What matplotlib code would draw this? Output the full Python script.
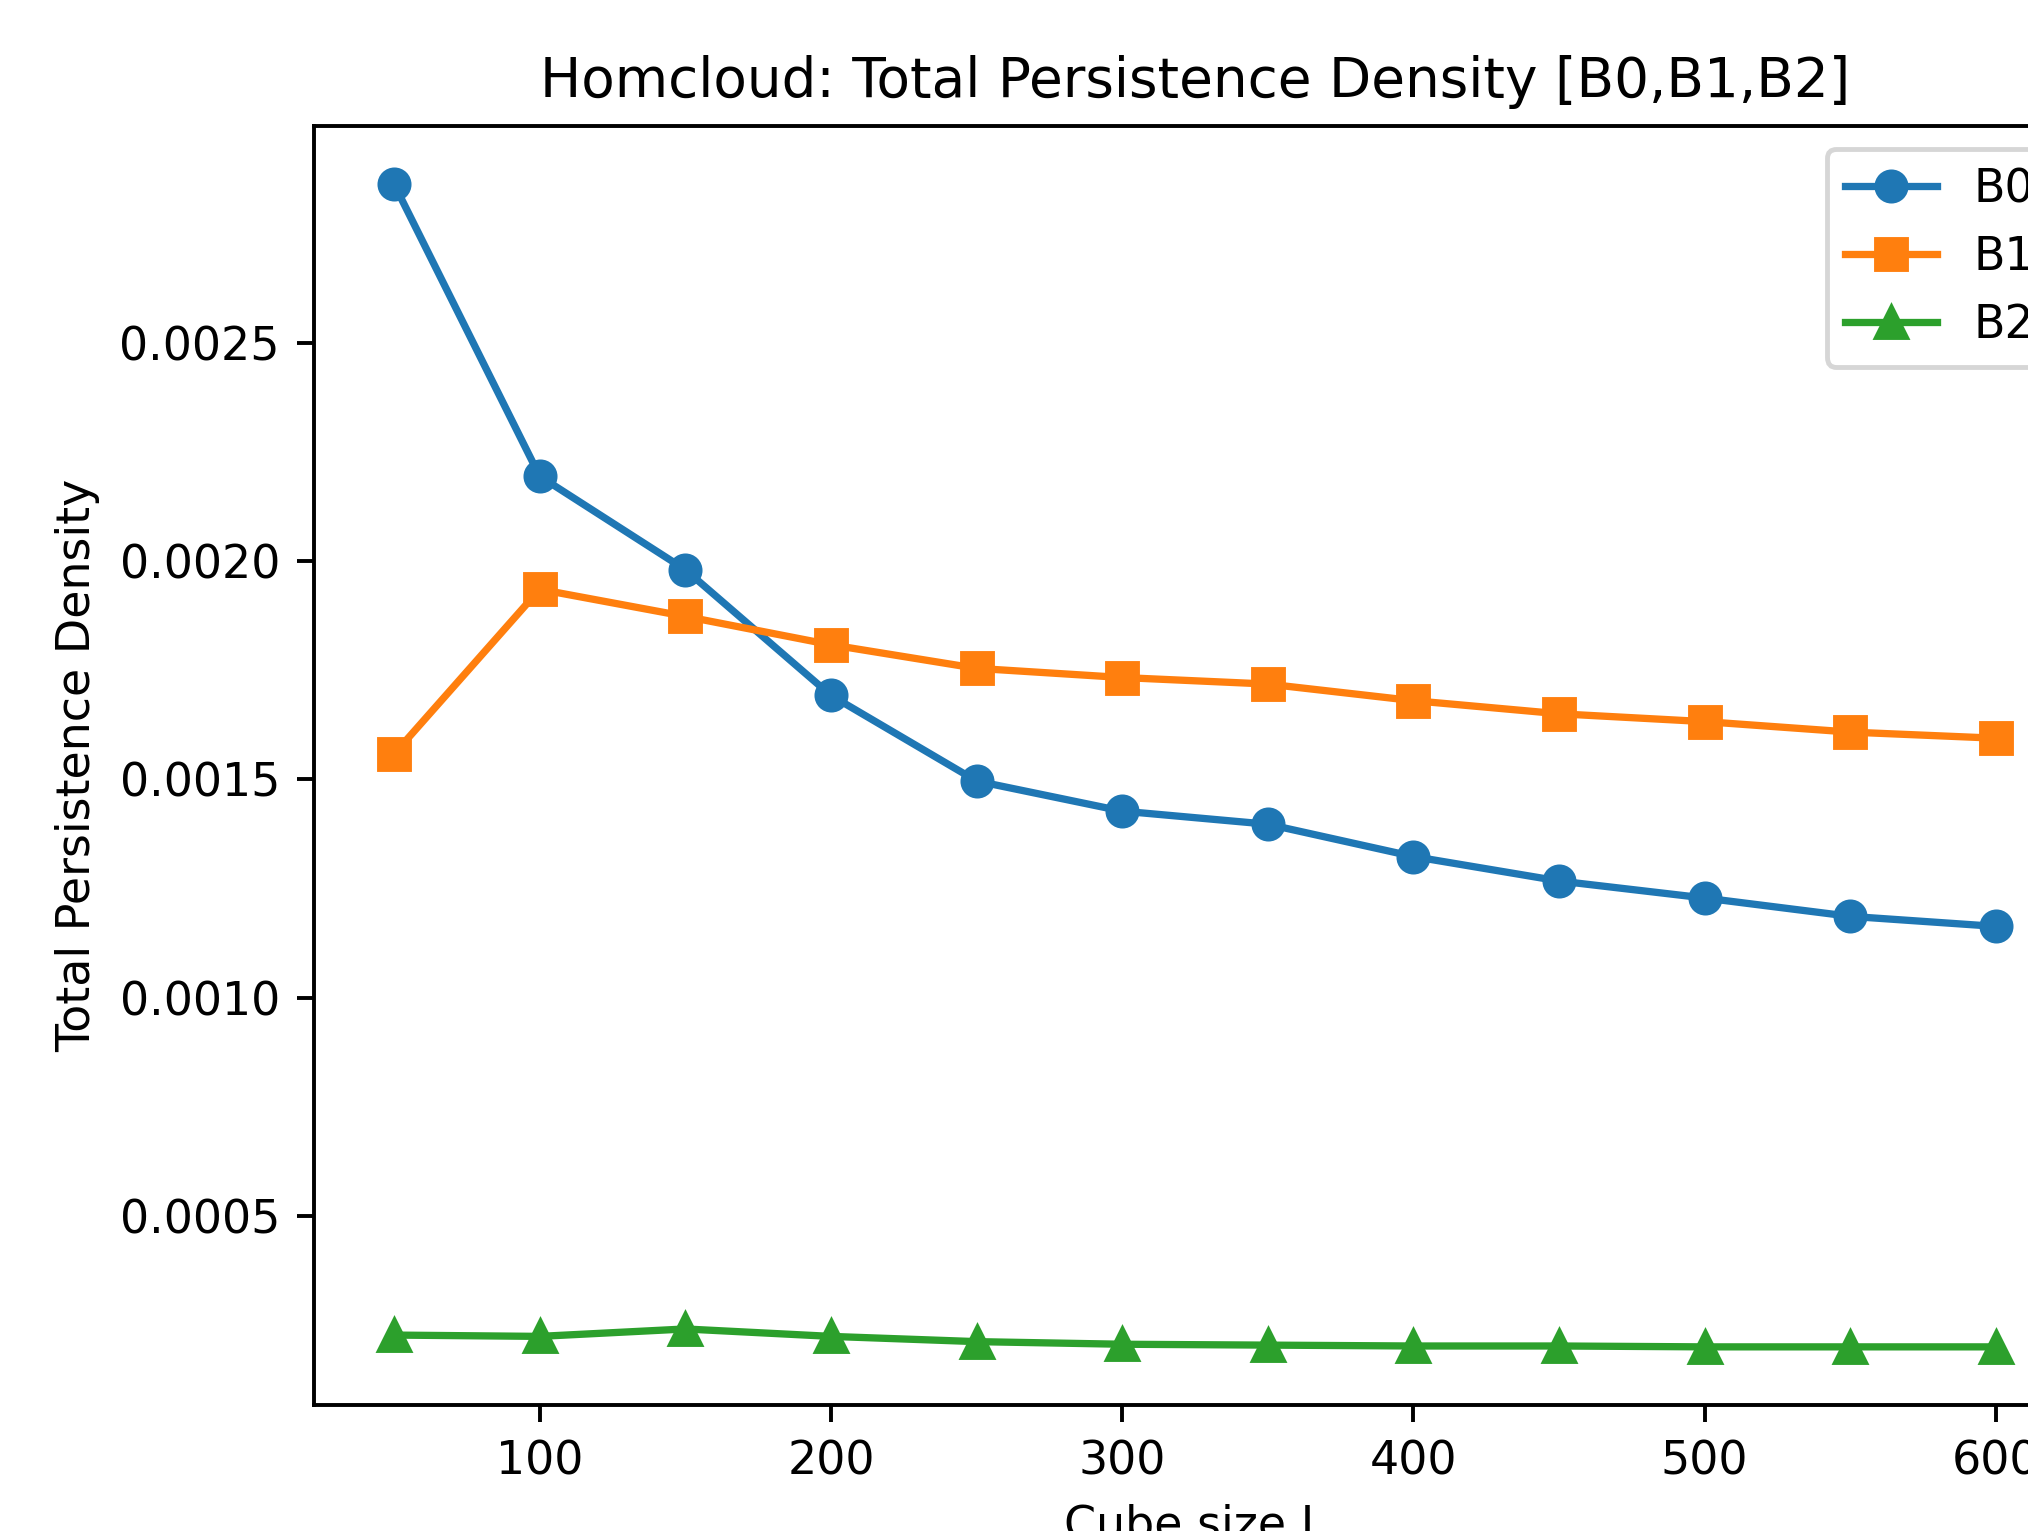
import matplotlib
matplotlib.use("Agg")
import matplotlib.pyplot as plt

# Cube sizes and total persistence density per Betti number
cube_size = [50, 100, 150, 200, 250, 300, 350, 400, 450, 500, 550, 600]
b0 = [0.002863, 0.002194, 0.00198, 0.001692, 0.001496, 0.001427,
      0.001397, 0.001323, 0.001267, 0.001228, 0.001186, 0.001163]
b1 = [0.001558, 0.001935, 0.001873, 0.001808, 0.001754, 0.001733,
      0.001718, 0.00168, 0.00165, 0.001632, 0.001608, 0.001594]
b2 = [0.000227, 0.000224, 0.000241, 0.000224, 0.000212, 0.000206,
      0.000204, 0.000202, 0.000202, 0.0002, 0.0002, 0.0002]

plt.rcParams['font.size'] = 9.45

dpi = 350
fig = plt.figure(figsize=(2028 / dpi, 1531 / dpi), dpi=dpi)
# axes run past the right and bottom edge, like the cropped original
ax = fig.add_axes([314 / 2028, 1 - 1405 / 1531, 1762 / 2028, 1279 / 1531])

ax.plot(cube_size, b0, marker='o', label='B0')
ax.plot(cube_size, b1, marker='s', label='B1')
ax.plot(cube_size, b2, marker='^', label='B2')

ax.set_title('Homcloud: Total Persistence Density [B0,B1,B2]', fontsize=11.3)
ax.set_xlabel('Cube size L')
ax.set_ylabel('Total Persistence Density')
ax.legend(loc='upper right')

fig.savefig('out.png', dpi=dpi)
